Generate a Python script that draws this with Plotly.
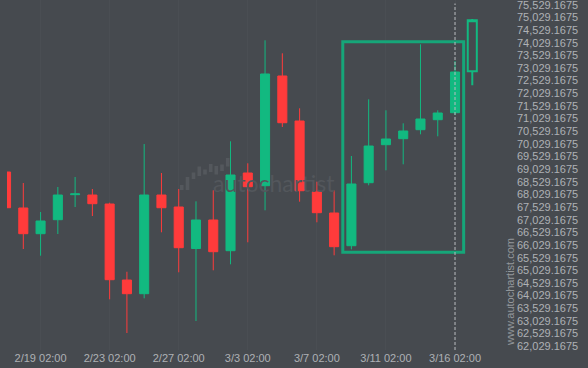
import plotly.graph_objects as go

# ---- data ----
dates = ["2/17", "2/18", "2/19", "2/20", "2/21", "2/22", "2/23", "2/24", "2/25", "2/26",
         "2/27", "2/28", "3/1", "3/2", "3/3", "3/4", "3/5", "3/6", "3/7", "3/8",
         "3/9", "3/10", "3/11", "3/12", "3/13", "3/14", "3/16", "3/17"]
opens = [68916, 67493, 66477, 67030, 68020, 68006, 67651, 64646, 64105, 68006,
         67532, 65892, 67018, 65805, 68876, 68374, 72711, 70932, 68125, 67295,
         66002, 68493, 69995, 70232, 70588, 70983, 71260, 72896]
highs = [69000, 68481, 67334, 68323, 68718, 68244, 67702, 64974, 70022, 68876,
         68244, 67757, 68192, 70129, 69260, 74122, 73608, 71434, 68532, 68192,
         69548, 71789, 71355, 70841, 73964, 71355, 73303, 74964]
lows = [67400, 65872, 65607, 66465, 67532, 67176, 63883, 62551, 63923, 66532,
        64951, 63026, 65030, 65267, 66137, 67402, 70695, 67742, 66927, 65623,
        65860, 68390, 68983, 69220, 70406, 70327, 71169, 72343]
closes = [67504, 66477, 66979, 68006, 68050, 67663, 64658, 64105, 68006, 67504,
          65923, 67018, 65765, 68797, 68335, 72790, 70864, 68176, 67307, 65963,
          68441, 69943, 70220, 70536, 71011, 71248, 72869, 74912]
tick_idx = [2, 6, 10, 14, 18, 22, 26]
y_ticks = [62029.1675 + 500 * k for k in range(28)]
zone_x = [19.5, 26.5]
zone_y = [65741, 74066]
marker_idx = 26

GREEN = "#12b980"
RED = "#ff3b3b"
BG = "#464a4f"

W, H = 588, 368
ML, MR, MT, MB = 7, 76, 0, 18
PW, PH = W - ML - MR, H - MT - MB

def px2paper(px, py):
    return (px - ML) / PW, 1 - (py - MT) / PH

n = len(opens)
xs = list(range(n))

fig = go.Figure()
fig.add_trace(go.Candlestick(
    x=xs[:-1], open=opens[:-1], high=highs[:-1], low=lows[:-1], close=closes[:-1],
    increasing=dict(line=dict(color=GREEN, width=1), fillcolor=GREEN),
    decreasing=dict(line=dict(color=RED, width=1), fillcolor=RED),
    whiskerwidth=0, hoverinfo="skip", showlegend=False))
fig.add_trace(go.Candlestick(
    x=xs[-1:], open=opens[-1:], high=highs[-1:], low=lows[-1:], close=closes[-1:],
    increasing=dict(line=dict(color=GREEN, width=2), fillcolor="rgba(0,0,0,0)"),
    decreasing=dict(line=dict(color=RED, width=2), fillcolor="rgba(0,0,0,0)"),
    whiskerwidth=0, hoverinfo="skip", showlegend=False))

shapes = []
# watermark logo bars
bars = [(181.7, 185, 190), (187.5, 177, 190), (193.5, 172.5, 179), (199.3, 166.5, 176),
        (205, 169.5, 174.5), (210.7, 164, 172), (216.3, 166, 174.5), (222, 164.5, 171),
        (227.7, 158, 166.5)]
for bx, by0, by1 in bars:
    x0, y0 = px2paper(bx - 1.8, by0)
    x1, y1 = px2paper(bx + 1.8, by1)
    shapes.append(dict(type="rect", xref="paper", yref="paper", x0=x0, x1=x1, y0=y0, y1=y1,
                       fillcolor="#54585d", line=dict(width=0), layer="below"))
# pattern zone
shapes.append(dict(type="rect", xref="x", yref="y", x0=zone_x[0], x1=zone_x[1],
                   y0=zone_y[0], y1=zone_y[1], line=dict(color="#16a679", width=3),
                   fillcolor="rgba(0,0,0,0)", layer="above"))
# current time marker
shapes.append(dict(type="line", xref="x", yref="paper", x0=marker_idx, x1=marker_idx,
                   y0=0, y1=0.99, line=dict(color="#b8bbbf", width=1, dash="3px,2px"),
                   layer="above"))

ax, ay = px2paper(274, 183)
ux, uy = px2paper(509.5, 292.5)
annotations = [
    dict(text="autochartist", xref="paper", yref="paper", x=ax, y=ay, showarrow=False,
         xanchor="center", yanchor="middle",
         font=dict(family="Lato", size=23, color="#53575c")),
    dict(text="www.autochartist.com", xref="paper", yref="paper", x=ux, y=uy,
         showarrow=False, textangle=-90, xanchor="center", yanchor="middle",
         font=dict(family="Liberation Sans, Arial", size=11, color="#93979b")),
]

fig.update_layout(
    width=W, height=H, margin=dict(l=ML, r=MR, t=MT, b=MB),
    paper_bgcolor=BG, plot_bgcolor=BG, boxgap=0.25,
    shapes=shapes, annotations=annotations,
    font=dict(family="Liberation Sans, Arial", size=11, color="#aeb1b5"),
    xaxis=dict(range=[0.056, 29.30], rangeslider=dict(visible=False),
               tickvals=tick_idx, ticktext=[dates[i] + " 02:00" for i in tick_idx],
               showgrid=True, gridcolor="rgba(255,255,255,0.025)", zeroline=False,
               showline=False, ticks=""),
    yaxis=dict(range=[61879.5, 75715.0], side="right", tickvals=y_ticks,
               tickformat=",.4f", showgrid=False, zeroline=False, showline=False,
               ticks="", ticklabelstandoff=4, ticklabeloverflow="allow"),
)

fig.write_html("out.html")
